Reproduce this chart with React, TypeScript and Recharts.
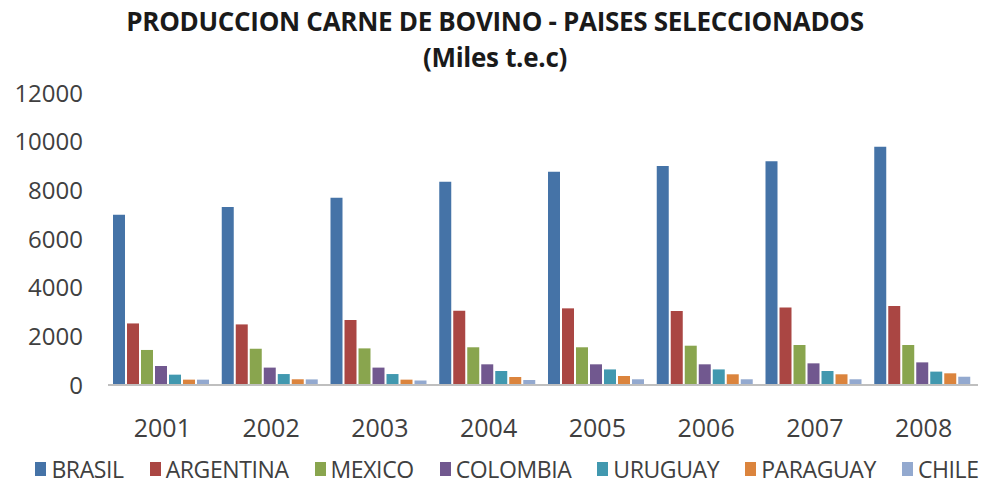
import React from 'react';
import { BarChart, Bar, XAxis, YAxis, Legend } from 'recharts';

if (typeof document !== 'undefined') document.body.style.margin = '0';

const years = ['2001', '2002', '2003', '2004', '2005', '2006', '2007', '2008'];
const brasil = [7000, 7320, 7700, 8350, 8760, 9000, 9200, 9790];
const argentina = [2530, 2490, 2670, 3050, 3150, 3040, 3180, 3245];
const mexico = [1440, 1490, 1505, 1550, 1550, 1615, 1645, 1645];
const colombia = [780, 715, 715, 850, 850, 850, 890, 930];
const uruguay = [425, 450, 450, 575, 640, 640, 575, 550];
const paraguay = [220, 235, 220, 330, 370, 440, 440, 480];
const chile = [220, 230, 185, 205, 235, 235, 235, 340];
const yTicks = [0, 2000, 4000, 6000, 8000, 10000, 12000];

const seriesNames = ['BRASIL', 'ARGENTINA', 'MEXICO', 'COLOMBIA', 'URUGUAY', 'PARAGUAY', 'CHILE'];
const seriesValues = [brasil, argentina, mexico, colombia, uruguay, paraguay, chile];
const colors = ['#4573A7', '#AA4643', '#89A54E', '#71588F', '#4198AF', '#DB843D', '#93A9CF'];

const data = years.map((y, i) => {
  const row: Record<string, string | number> = { year: y };
  seriesNames.forEach((n, j) => {
    row[n] = seriesValues[j][i];
  });
  return row;
});

const FONT = '"Open Sans", "Liberation Sans", sans-serif';

const renderLegend = () => (
  <div
    style={{
      display: 'flex',
      justifyContent: 'center',
      alignItems: 'center',
      fontFamily: FONT,
      fontSize: 23,
      color: '#404040',
      gap: 26,
      paddingTop: 15,
      lineHeight: '30px',
      marginLeft: 36,
    }}
  >
    {seriesNames.map((n, i) => (
      <div key={n} style={{ display: 'flex', alignItems: 'center' }}>
        <span style={{ display: 'inline-block', width: 11, height: 14, background: colors[i], marginRight: 5 }} />
        <span style={{ letterSpacing: -0.4 }}>{n}</span>
      </div>
    ))}
  </div>
);

export default function App() {
  return (
    <div style={{ position: 'relative', width: 990, height: 484, background: '#fff' }}>
      <div
        style={{
          position: 'absolute',
          top: 3,
          left: 0,
          width: 990,
          textAlign: 'center',
          fontFamily: FONT,
          fontWeight: 'bold',
          fontSize: 26,
          color: '#1a1a1a',
          lineHeight: '36px',
          letterSpacing: -0.3,
        }}
      >
        <div>PRODUCCION CARNE DE BOVINO - PAISES SELECCIONADOS</div>
        <div>(Miles t.e.c)</div>
      </div>
      <BarChart
        width={990}
        height={484}
        data={data}
        margin={{ top: 93, right: 12, left: 0, bottom: 5 }}
        barCategoryGap={5}
        barGap={2}
      >
        <XAxis
          dataKey="year"
          axisLine={{ stroke: '#BFBFBF', strokeWidth: 2 }}
          tickLine={false}
          tick={{ fill: '#404040', fontSize: 25, fontFamily: FONT }}
          tickMargin={28}
          height={54}
        />
        <YAxis
          domain={[0, 12000]}
          ticks={yTicks}
          axisLine={false}
          tickLine={false}
          tick={{ fill: '#404040', fontSize: 24, fontFamily: FONT }}
          tickMargin={19}
          width={108}
        />
        <Legend verticalAlign="bottom" height={40} content={renderLegend} />
        {seriesNames.map((n, i) => (
          <Bar key={n} dataKey={n} fill={colors[i]} isAnimationActive={false} />
        ))}
      </BarChart>
    </div>
  );
}
